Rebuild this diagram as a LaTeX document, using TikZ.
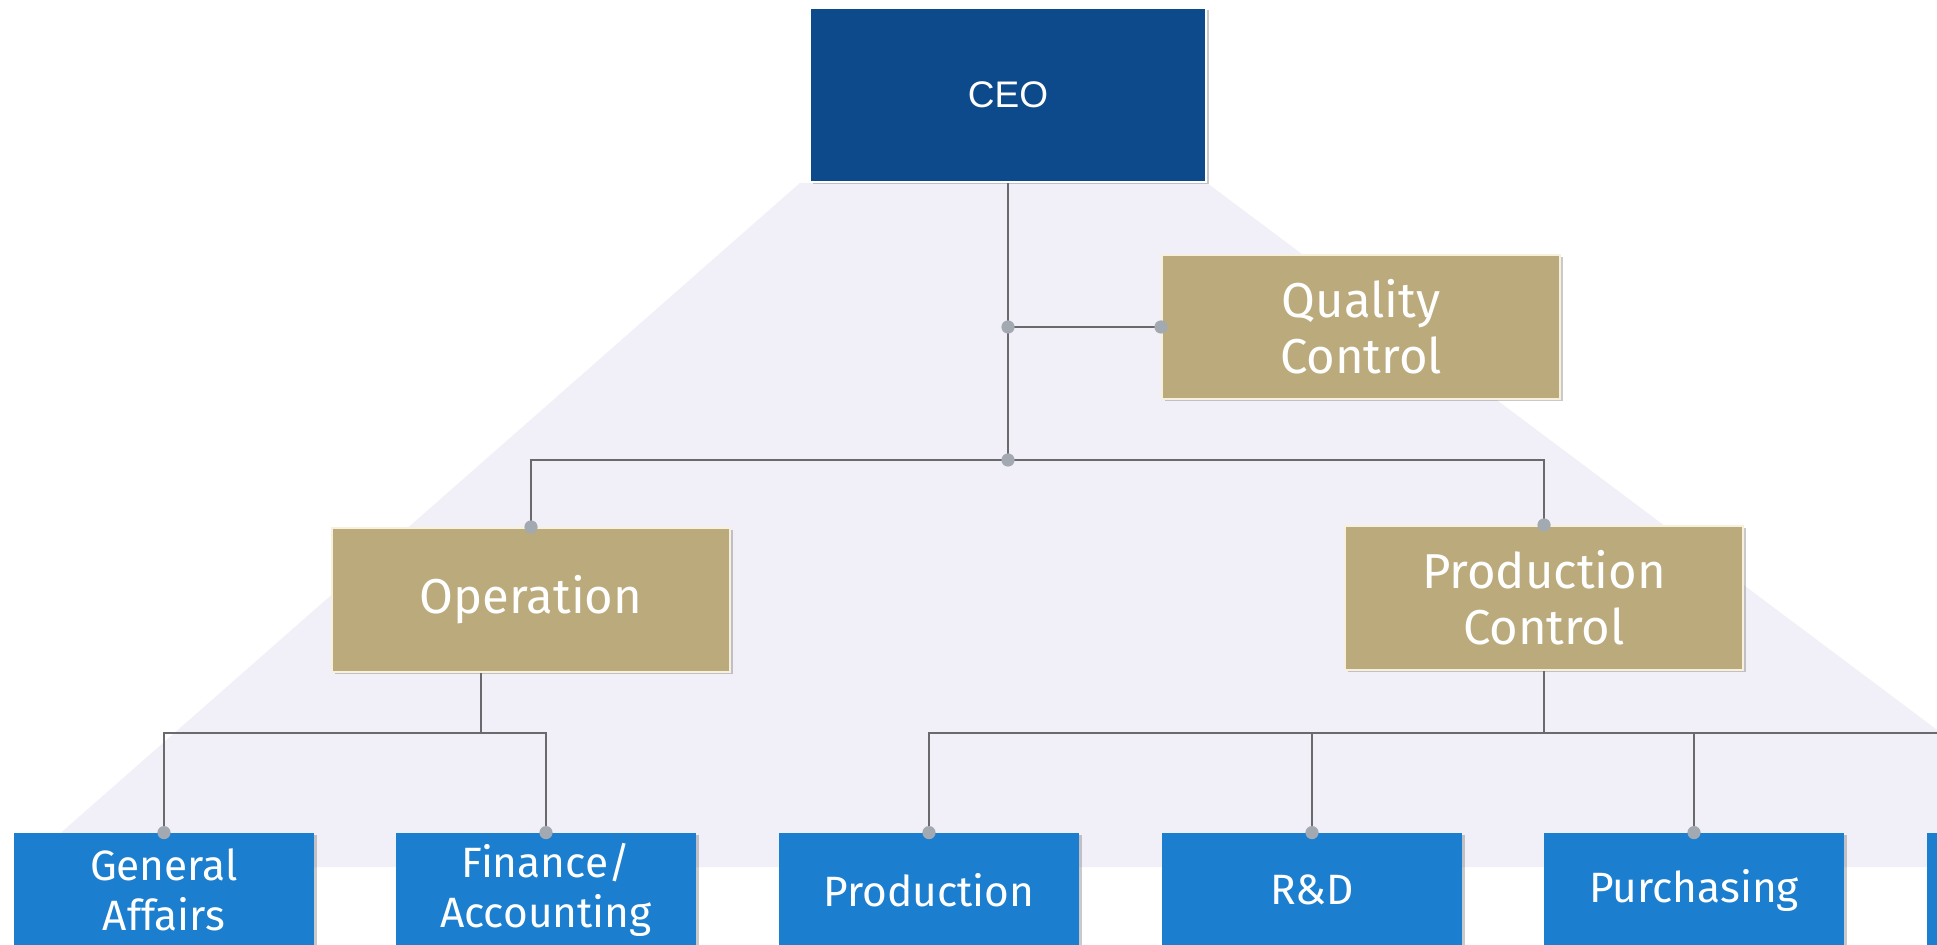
\documentclass[tikz,border=0pt]{standalone}
\usepackage{fontspec}
\setmainfont{Fira Sans}
\newfontfamily\ceofont{Liberation Sans}
\usetikzlibrary{shadows}

\definecolor{ceoblue}{RGB}{12,74,140}
\definecolor{khaki}{RGB}{187,170,124}
\definecolor{unitblue}{RGB}{27,126,206}
\definecolor{lavender}{RGB}{241,239,248}
\definecolor{wiregray}{RGB}{105,105,110}
\definecolor{knobgray}{RGB}{163,169,177}
\definecolor{cream}{RGB}{246,240,220}

\begin{document}
\begin{tikzpicture}[x=0.5pt,y=-0.5pt,
  box/.style={rectangle,inner sep=0pt,align=center,text=white,
    drop shadow={shadow xshift=1.6pt,shadow yshift=-1.2pt,opacity=0.35,fill=black!60}},
  head/.style={box,fill=ceoblue,draw=white,line width=0.8pt,
    minimum width=198pt,minimum height=87pt,font=\ceofont\fontsize{18.5}{22}\selectfont},
  staff/.style={box,fill=khaki,draw=cream,line width=1pt,
    minimum width=199pt,minimum height=72pt,font=\fontsize{24.5}{28}\selectfont},
  unit/.style={box,fill=unitblue,
    minimum width=150pt,minimum height=57pt,font=\fontsize{21.2}{25}\selectfont},
  wire/.style={draw=wiregray,line width=0.75pt}]

  \useasboundingbox (0,0) rectangle (1937,945);
  \fill[white] (0,0) rectangle (1937,945);

  % pyramid behind the chart
  \fill[lavender] (800,183) -- (1207,183) -- (2120,867) -- (22,867) -- cycle;

  \node[head] (ceo) at (1008,95) {CEO};

  \node[staff] (qc) at (1361,327) {Quality\\Control};
  \node[staff] (op) at (531,600) {Operation};
  \node[staff] (pc) at (1544,598) {Production\\Control};

  \node[unit] (ga) at (164,890) {General\\Affairs};
  \node[unit] (fa) at (546,890) {Finance/\\Accounting};
  \node[unit] (prod) at (929,890) {Production};
  \node[unit] (rd) at (1312,890) {R\&D};
  \node[unit] (pur) at (1694,890) {Purchasing};
  \node[unit] (more) at (2077,890) {};

  \coordinate (qcjoint) at (ceo.south |- qc.west);
  \coordinate (topbus) at (1008,460);
  \coordinate (opbus) at (481,733);
  \coordinate (pcbus) at (1544,733);

  \draw[wire] (ceo.south) -- (topbus);
  \draw[wire] (qcjoint) -- (qc.west);
  \draw[wire] (op.north) |- (topbus) -| (pc.north);

  \draw[wire] ([xshift=-25pt]op.south) -- (opbus);
  \draw[wire] (ga.north) |- (opbus) -| (fa.north);

  \draw[wire] (pc.south) -- (pcbus);
  \draw[wire] (prod.north) |- (pcbus) -| (more.north);
  \draw[wire] (rd.north) -- (rd.north |- pcbus);
  \draw[wire] (pur.north) -- (pur.north |- pcbus);

  % dots
  \foreach \p in {qcjoint,qc.west,topbus,op.north,pc.north,
                  ga.north,fa.north,prod.north,rd.north,pur.north}
    \fill[knobgray] (\p) circle (3.3pt);

\end{tikzpicture}
\end{document}
